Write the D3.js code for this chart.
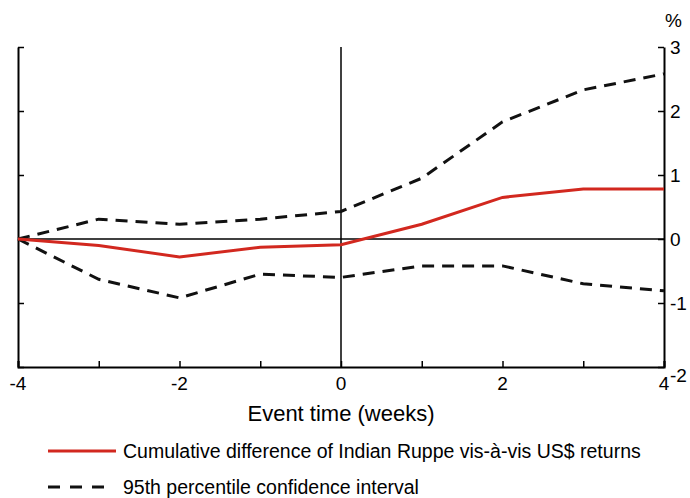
<!DOCTYPE html>
<html>
<head>
<meta charset="utf-8">
<script src="https://cdn.jsdelivr.net/npm/d3@7"></script>
<style>
  body { margin: 0; background: #fff; }
  svg { display: block; font-family: "Liberation Sans", Arial, sans-serif; }
</style>
</head>
<body>
<div id="chart"></div>
<script>
const weeks = [-4, -3, -2, -1, 0, 1, 2, 3, 4];
const cumDiff = [0, -0.10, -0.28, -0.13, -0.09, 0.23, 0.65, 0.78, 0.78];
const upperCI = [0, 0.31, 0.23, 0.31, 0.43, 0.95, 1.83, 2.33, 2.58];
const lowerCI = [0, -0.63, -0.92, -0.55, -0.60, -0.42, -0.42, -0.70, -0.81];
const xTicks = [-4, -2, 0, 2, 4];
const yTicks = [-2, -1, 0, 1, 2, 3];
const legendLabels = [
    "Cumulative difference of Indian Ruppe vis-à-vis US$ returns",
    "95th percentile confidence interval"
];

const W = 690, H = 498;
const plot = { left: 18, right: 664, top: 47, bottom: 367 };

const svg = d3.select("#chart").append("svg")
    .attr("width", W)
    .attr("height", H);

const x = d3.scaleLinear().domain([-4, 4]).range([plot.left, plot.right]);
const y = d3.scaleLinear().domain([-2, 3]).range([plot.bottom, plot.top]);

// axes
svg.append("g")
    .attr("transform", `translate(0,${plot.bottom})`)
    .call(d3.axisBottom(x).tickValues(weeks).tickSize(-6).tickFormat(""))
    .call(g => g.select(".domain").attr("stroke-width", 2))
    .call(g => g.selectAll(".tick line").attr("stroke-width", 1.5));

svg.append("g")
    .attr("transform", `translate(${plot.left},0)`)
    .call(d3.axisLeft(y).tickValues(yTicks).tickSize(-6).tickSizeOuter(0).tickFormat(""))
    .call(g => g.select(".domain").attr("stroke-width", 2))
    .call(g => g.selectAll(".tick line").attr("stroke-width", 1.5));

svg.append("g")
    .attr("transform", `translate(${plot.right},0)`)
    .call(d3.axisRight(y).tickValues(yTicks).tickSize(-6).tickSizeOuter(0).tickFormat(""))
    .call(g => g.select(".domain").attr("stroke-width", 2))
    .call(g => g.selectAll(".tick line").attr("stroke-width", 1.5));

// tick labels
svg.append("g").selectAll("text")
    .data(xTicks)
    .join("text")
    .attr("x", d => x(d))
    .attr("y", plot.bottom + 23)
    .attr("text-anchor", "middle")
    .attr("font-size", 19)
    .text(d => d);

svg.append("g").selectAll("text")
    .data(yTicks)
    .join("text")
    .attr("x", plot.right + 6)
    .attr("y", d => y(d) + (d === -2 ? 8 : 0))
    .attr("dy", "0.35em")
    .attr("font-size", 19)
    .text(d => d);

svg.append("text")
    .attr("x", plot.right + 1)
    .attr("y", 27)
    .attr("font-size", 19)
    .text("%");

// reference lines
svg.append("line")
    .attr("x1", plot.left).attr("x2", plot.right)
    .attr("y1", y(0)).attr("y2", y(0))
    .attr("stroke", "#000").attr("stroke-width", 1.5);

svg.append("line")
    .attr("x1", x(0)).attr("x2", x(0))
    .attr("y1", plot.top).attr("y2", plot.bottom)
    .attr("stroke", "#000").attr("stroke-width", 1.5);

// series
const line = d3.line().x((d, i) => x(weeks[i])).y(d => y(d));

[upperCI, lowerCI].forEach(s => {
    svg.append("path")
        .datum(s)
        .attr("fill", "none")
        .attr("stroke", "#111")
        .attr("stroke-width", 3)
        .attr("stroke-dasharray", "12,8")
        .attr("d", line);
});

svg.append("path")
    .datum(cumDiff)
    .attr("fill", "none")
    .attr("stroke", "#d2281f")
    .attr("stroke-width", 3)
    .attr("d", line);

// axis title
svg.append("text")
    .attr("x", x(0))
    .attr("y", 421)
    .attr("text-anchor", "middle")
    .attr("font-size", 22)
    .text("Event time (weeks)");

// legend
const legend = svg.append("g");
legend.append("line")
    .attr("x1", 48).attr("x2", 116)
    .attr("y1", 451).attr("y2", 451)
    .attr("stroke", "#d2281f").attr("stroke-width", 3);
legend.append("line")
    .attr("x1", 48).attr("x2", 106)
    .attr("y1", 487).attr("y2", 487)
    .attr("stroke", "#111").attr("stroke-width", 3)
    .attr("stroke-dasharray", "12,10");
legend.selectAll("text")
    .data(legendLabels)
    .join("text")
    .attr("x", 123)
    .attr("y", (d, i) => 451 + i * 36)
    .attr("dy", "0.35em")
    .attr("font-size", 19.5)
    .text(d => d);
</script>
</body>
</html>
